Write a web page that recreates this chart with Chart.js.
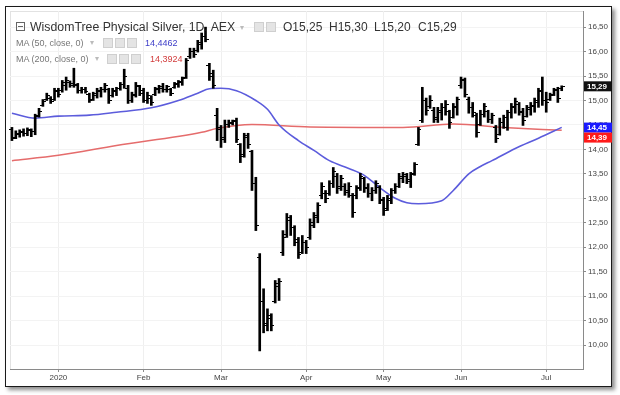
<!DOCTYPE html>
<html>
<head>
<meta charset="utf-8">
<script src="https://cdn.jsdelivr.net/npm/chart.js@4.4.1/dist/chart.umd.min.js"></script>
<style>
  body { margin: 0; width: 620px; height: 395px; overflow: hidden; position: relative; background: #fff; font-family: "Liberation Sans", Arial, sans-serif; }
  .frame { position: absolute; left: 5px; top: 6px; width: 605px; height: 379px; border: 1px solid #1a1a1a; box-shadow: 3px 3px 4px rgba(0,0,0,0.45); background: #fff; }
  #chart { position: absolute; left: 0; top: 0; }
  .txt { position: absolute; white-space: nowrap; line-height: 1; }
  .title { top: 21px; font-size: 12.3px; color: #333; }
  .ohlc { top: 21px; font-size: 12px; color: #333; }
  .ma { font-size: 9px; color: #777; }
  .btn { position: absolute; width: 8px; height: 8px; border: 1px solid #cfcfcf; background: #e4e4e4; }
  .arrow { font-size: 8px; color: #bbb; }
  .collapse { position: absolute; left: 16px; top: 22px; width: 7px; height: 7px; border: 1px solid #666; }
  .collapse:after { content: ""; position: absolute; left: 1px; top: 3px; width: 5px; height: 1px; background: #666; }
</style>
</head>
<body>
<div class="frame"></div>
<canvas id="chart" width="620" height="395"></canvas>

<div class="collapse"></div>
<div class="txt title" style="left:30px">WisdomTree Physical Silver, 1D, AEX</div>
<div class="txt arrow" style="left:240px;top:24px">▾</div>
<div class="btn" style="left:254px;top:22px"></div>
<div class="btn" style="left:266px;top:22px"></div>
<div class="txt ohlc" style="left:283px">O15,25</div>
<div class="txt ohlc" style="left:329px">H15,30</div>
<div class="txt ohlc" style="left:374px">L15,20</div>
<div class="txt ohlc" style="left:418px">C15,29</div>

<div class="txt ma" style="left:16px;top:39px">MA (50, close, 0)</div>
<div class="txt arrow" style="left:90px;top:39px">▾</div>
<div class="btn" style="left:103px;top:38px"></div>
<div class="btn" style="left:115px;top:38px"></div>
<div class="btn" style="left:127px;top:38px"></div>
<div class="txt ma" style="left:145px;top:39px;color:#3c3cc8">14,4462</div>

<div class="txt ma" style="left:16px;top:55px">MA (200, close, 0)</div>
<div class="txt arrow" style="left:95px;top:55px">▾</div>
<div class="btn" style="left:107px;top:54px"></div>
<div class="btn" style="left:119px;top:54px"></div>
<div class="btn" style="left:131px;top:54px"></div>
<div class="txt ma" style="left:150px;top:55px;color:#d23c3c">14,3924</div>

<script>
// trading days per month (AEX calendar)
const daysDec = [12, 13, 16, 17, 18, 19, 20, 23, 24, 27, 30, 31];
const daysJan = [2, 3, 6, 7, 8, 9, 10, 13, 14, 15, 16, 17, 20, 21, 22, 23, 24, 27, 28, 29, 30, 31];
const daysFeb = [3, 4, 5, 6, 7, 10, 11, 12, 13, 14, 17, 18, 19, 20, 21, 24, 25, 26, 27, 28];
const daysMar = [2, 3, 4, 5, 6, 9, 10, 11, 12, 13, 16, 17, 18, 19, 20, 23, 24, 25, 26, 27, 30, 31];
const daysApr = [1, 2, 3, 6, 7, 8, 9, 14, 15, 16, 17, 20, 21, 22, 23, 24, 27, 28, 29, 30];
const daysMay = [4, 5, 6, 7, 8, 11, 12, 13, 14, 15, 18, 19, 20, 21, 22, 25, 26, 27, 28, 29];
const daysJun = [1, 2, 3, 4, 5, 8, 9, 10, 11, 12, 15, 16, 17, 18, 19, 22, 23, 24, 25, 26, 29, 30];
const daysJul = [1, 2, 3, 6, 7, 8, 9, 10, 13, 14];

const monthTickDates = ["2020-01-02", "2020-02-03", "2020-03-02", "2020-04-01", "2020-05-04", "2020-06-01", "2020-07-01"];
const monthTickLabels = ["2020", "Feb", "Mar", "Apr", "May", "Jun", "Jul"];

const opens = [
  14.40, 14.24, 14.30, 14.34, 14.33, 14.38, 14.36, 14.70, 14.90, 15.02,
  15.05, 15.02, 15.18, 15.20, 15.30, 15.36, 15.35, 15.30, 15.20, 15.22,
  15.12, 15.02, 15.10, 15.18, 15.22, 15.22, 15.10, 15.18, 15.24, 15.32,
  15.25, 15.00, 15.10, 15.28, 15.20, 15.00, 15.05, 15.12, 15.22, 15.25,
  15.22, 15.22, 15.26, 15.32, 15.36, 15.48, 15.90, 16.00, 16.02, 16.15,
  16.30, 15.72, 15.55, 14.70, 14.45, 14.25, 14.50, 14.52, 14.60, 14.10,
  13.90, 14.28, 13.95, 13.30, 11.80, 10.90, 10.40, 10.55, 10.90, 11.20,
  11.90, 12.25, 12.55, 12.40, 12.15, 11.90, 12.10, 12.20, 12.45, 12.60,
  13.05, 13.10, 13.10, 13.30, 13.45, 13.25, 13.25, 13.15, 13.05, 13.05,
  13.22, 13.40, 13.22, 13.10, 13.15, 13.22, 12.98, 12.80, 12.95, 13.15,
  13.25, 13.40, 13.45, 13.35, 13.50, 14.10, 14.60, 15.00, 14.88, 14.80,
  14.62, 14.75, 14.85, 14.78, 14.65, 14.85, 15.30, 15.40, 15.02, 14.85,
  14.70, 14.50, 14.72, 14.78, 14.62, 14.45, 14.30, 14.55, 14.45, 14.75,
  14.85, 14.92, 14.75, 14.68, 14.82, 14.88, 14.95, 15.20, 15.00, 15.02,
  15.12, 15.22, 15.25
];
const highs = [
  14.45, 14.38, 14.40, 14.42, 14.44, 14.42, 14.72, 14.84, 15.02, 15.15,
  15.08, 15.25, 15.25, 15.41, 15.48, 15.40, 15.66, 15.35, 15.27, 15.27,
  15.15, 15.17, 15.25, 15.27, 15.35, 15.25, 15.25, 15.27, 15.37, 15.64,
  15.31, 15.17, 15.37, 15.31, 15.25, 15.17, 15.10, 15.27, 15.31, 15.35,
  15.31, 15.25, 15.37, 15.41, 15.48, 15.86, 16.07, 16.07, 16.23, 16.38,
  16.50, 15.76, 15.62, 14.84, 14.49, 14.60, 14.60, 14.60, 14.64, 14.12,
  14.33, 14.33, 13.98, 13.43, 11.87, 11.15, 10.74, 10.64, 11.32, 11.36,
  12.34, 12.69, 12.65, 12.44, 12.20, 12.24, 12.14, 12.58, 12.71, 12.91,
  13.32, 13.16, 13.36, 13.63, 13.51, 13.47, 13.30, 13.32, 13.10, 13.26,
  13.51, 13.43, 13.30, 13.22, 13.36, 13.26, 13.02, 13.06, 13.20, 13.30,
  13.51, 13.53, 13.51, 13.53, 13.73, 14.45, 15.27, 15.05, 15.10, 14.86,
  14.86, 14.94, 15.00, 14.80, 14.94, 15.07, 15.48, 15.46, 15.07, 14.96,
  14.74, 14.80, 14.94, 14.80, 14.74, 14.49, 14.64, 14.70, 14.80, 14.94,
  15.05, 14.96, 14.84, 14.90, 14.96, 15.05, 15.25, 15.48, 15.17, 15.15,
  15.25, 15.27, 15.30
];
const lows = [
  14.18, 14.22, 14.25, 14.27, 14.28, 14.26, 14.30, 14.66, 14.88, 15.00,
  14.94, 15.00, 15.07, 15.17, 15.21, 15.27, 15.27, 15.15, 15.15, 15.15,
  14.96, 15.00, 15.05, 15.07, 15.17, 14.94, 15.07, 15.10, 15.21, 15.25,
  14.94, 14.96, 15.07, 15.10, 14.96, 14.94, 14.90, 15.10, 15.15, 15.17,
  15.17, 15.10, 15.25, 15.27, 15.31, 15.45, 15.86, 15.88, 15.99, 16.05,
  16.20, 15.41, 15.25, 14.18, 14.04, 14.14, 14.45, 14.50, 14.14, 13.73,
  13.84, 14.02, 13.16, 12.34, 9.88, 10.25, 10.29, 10.29, 10.86, 10.91,
  11.83, 12.20, 12.24, 12.03, 11.77, 11.87, 11.87, 12.16, 12.40, 12.50,
  12.99, 12.91, 13.06, 13.22, 13.10, 13.16, 13.06, 13.02, 12.61, 12.99,
  13.16, 13.12, 13.02, 12.95, 13.10, 12.89, 12.65, 12.75, 12.89, 13.10,
  13.22, 13.32, 13.30, 13.22, 13.47, 14.08, 14.55, 14.70, 14.84, 14.55,
  14.55, 14.60, 14.70, 14.43, 14.64, 14.70, 15.25, 15.07, 14.74, 14.66,
  14.25, 14.49, 14.66, 14.55, 14.53, 14.14, 14.29, 14.43, 14.39, 14.64,
  14.74, 14.70, 14.49, 14.66, 14.70, 14.76, 14.86, 14.90, 14.76, 15.00,
  15.10, 14.96, 15.20
];
const closes = [
  14.22, 14.33, 14.36, 14.32, 14.40, 14.36, 14.68, 14.78, 14.98, 15.10,
  14.98, 15.20, 15.12, 15.36, 15.40, 15.30, 15.32, 15.20, 15.22, 15.18,
  15.00, 15.14, 15.20, 15.22, 15.30, 15.00, 15.20, 15.24, 15.32, 15.50,
  15.00, 15.12, 15.30, 15.15, 15.00, 15.10, 14.95, 15.24, 15.28, 15.22,
  15.28, 15.14, 15.34, 15.38, 15.45, 15.82, 16.00, 15.95, 16.18, 16.30,
  16.25, 15.50, 15.30, 14.40, 14.20, 14.50, 14.55, 14.58, 14.20, 13.85,
  14.25, 14.10, 13.30, 12.45, 10.90, 10.45, 10.60, 10.40, 11.25, 11.30,
  12.20, 12.60, 12.40, 12.10, 11.85, 12.10, 12.00, 12.50, 12.65, 12.85,
  13.25, 13.00, 13.30, 13.55, 13.20, 13.40, 13.12, 13.25, 12.70, 13.20,
  13.45, 13.20, 13.10, 13.15, 13.30, 12.95, 12.75, 13.00, 13.15, 13.25,
  13.45, 13.48, 13.38, 13.48, 13.70, 14.40, 15.00, 14.80, 15.00, 14.65,
  14.80, 14.85, 14.92, 14.55, 14.88, 15.02, 15.42, 15.12, 14.85, 14.75,
  14.35, 14.72, 14.88, 14.62, 14.70, 14.22, 14.55, 14.65, 14.75, 14.88,
  14.98, 14.78, 14.60, 14.85, 14.90, 15.00, 15.18, 15.00, 14.95, 15.10,
  15.20, 15.05, 15.29
];

// moving averages at a few bars
const ma50At = [0, 6, 12, 20, 27, 36, 43, 48, 51, 54, 58, 63, 66, 69, 74, 78, 82, 87, 91, 95, 99, 102, 105, 111, 114, 118, 121, 124, 130, 136, 142];
const ma50Val = [14.74, 14.64, 14.68, 14.70, 14.76, 14.85, 15.00, 15.15, 15.24, 15.25, 15.20, 15.00, 14.82, 14.50, 14.18, 13.98, 13.77, 13.61, 13.47, 13.22, 13.00, 12.91, 12.89, 12.95, 13.16, 13.50, 13.65, 13.77, 14.02, 14.23, 14.45];
const ma200At = [0, 12, 27, 49, 53, 62, 77, 101, 114, 127, 142];
const ma200Val = [13.77, 13.88, 14.08, 14.35, 14.43, 14.51, 14.46, 14.45, 14.52, 14.45, 14.39];

const tagValues = [15.29, 14.4462, 14.3924];
const tagTexts = ["15,29", "14,45", "14,39"];
const tagColors = ["#111111", "#1a1aff", "#ff1a1a"];

const pad = (n) => (n < 10 ? "0" + n : "" + n);
const labels = [];
[[2019, 12, daysDec], [2020, 1, daysJan], [2020, 2, daysFeb], [2020, 3, daysMar], [2020, 4, daysApr],
 [2020, 5, daysMay], [2020, 6, daysJun], [2020, 7, daysJul]].forEach(([y, m, days]) => {
  days.forEach((d) => labels.push(`${y}-${pad(m)}-${pad(d)}`));
});
const monthIdx = monthTickDates.map((d) => labels.indexOf(d));

function tickImage(left) {
  const c = document.createElement("canvas");
  c.width = 6;
  c.height = 1;
  const g = c.getContext("2d");
  g.fillStyle = "#000";
  g.fillRect(left ? 0 : 3, 0, 3, 1);
  return c;
}

const areaFrame = {
  id: "areaFrame",
  beforeDraw(chart) {
    const { ctx, chartArea: a } = chart;
    ctx.save();
    ctx.strokeStyle = "#e2e2e2";
    ctx.lineWidth = 1;
    ctx.strokeRect(a.left + 0.5, a.top + 0.5, a.right - a.left, a.bottom - a.top);
    ctx.restore();
  },
};

const priceTags = {
  id: "priceTags",
  afterDraw(chart) {
    const { ctx, chartArea: a } = chart;
    const y = chart.scales.y;
    let lastBottom = -Infinity;
    ctx.save();
    ctx.font = "bold 8px 'Liberation Sans', Arial, sans-serif";
    ctx.textBaseline = "middle";
    tagValues.forEach((v, i) => {
      let cy = y.getPixelForValue(v);
      if (cy - 5 < lastBottom) cy = lastBottom + 5;
      lastBottom = cy + 5;
      ctx.fillStyle = tagColors[i];
      ctx.fillRect(a.right + 1, cy - 5, 28, 10);
      ctx.fillStyle = "#fff";
      ctx.fillText(tagTexts[i], a.right + 4, cy + 0.5);
    });
    ctx.restore();
  },
};

new Chart(document.getElementById("chart"), {
  data: {
    labels: labels,
    datasets: [
      {
        type: "bar",
        data: lows.map((l, i) => [l, highs[i]]),
        backgroundColor: "#000",
        barThickness: 2,
        order: 0,
      },
      {
        type: "line",
        data: opens,
        showLine: false,
        pointStyle: tickImage(true),
        pointRadius: 1,
        order: 0,
      },
      {
        type: "line",
        data: closes,
        showLine: false,
        pointStyle: tickImage(false),
        pointRadius: 1,
        order: 0,
      },
      {
        type: "line",
        data: ma50At.map((k, j) => ({ x: labels[k], y: ma50Val[j] })),
        borderColor: "#5c5cdc",
        borderWidth: 1.6,
        pointRadius: 0,
        cubicInterpolationMode: "monotone",
        spanGaps: true,
        order: 2,
      },
      {
        type: "line",
        data: ma200At.map((k, j) => ({ x: labels[k], y: ma200Val[j] })),
        borderColor: "#e56c6c",
        borderWidth: 1.5,
        pointRadius: 0,
        cubicInterpolationMode: "monotone",
        spanGaps: true,
        order: 3,
      },
    ],
  },
  options: {
    responsive: false,
    animation: false,
    layout: { padding: { left: 10, top: 11, right: 0, bottom: 0 } },
    plugins: { legend: { display: false }, tooltip: { enabled: false } },
    scales: {
      x: {
        type: "category",
        offset: true,
        border: { color: "#8a8a8a" },
        grid: {
          offset: false,
          color: (c) => (monthIdx.includes(c.index) ? "#efefef" : "transparent"),
          tickColor: (c) => (monthIdx.includes(c.index) ? "#8a8a8a" : "transparent"),
          tickLength: 3,
        },
        ticks: {
          autoSkip: false,
          maxRotation: 0,
          padding: 1,
          color: "#444",
          font: { family: "'Liberation Sans', Arial, sans-serif", size: 8 },
          callback: (v, i) => {
            const k = monthIdx.indexOf(i);
            return k >= 0 ? monthTickLabels[k] : "";
          },
        },
        afterFit: (s) => { s.height = 26; },
      },
      y: {
        position: "right",
        min: 9.51,
        max: 16.83,
        border: { color: "#8a8a8a" },
        grid: { color: "#f3f3f3", tickColor: "#8a8a8a", tickLength: 3 },
        ticks: {
          stepSize: 0.5,
          includeBounds: false,
          padding: 2,
          color: "#444",
          font: { family: "'Liberation Sans', Arial, sans-serif", size: 8 },
          callback: (v) => v.toFixed(2).replace(".", ","),
        },
        afterFit: (s) => { s.width = 37; },
      },
    },
  },
  plugins: [areaFrame, priceTags],
});
</script>
</body>
</html>
